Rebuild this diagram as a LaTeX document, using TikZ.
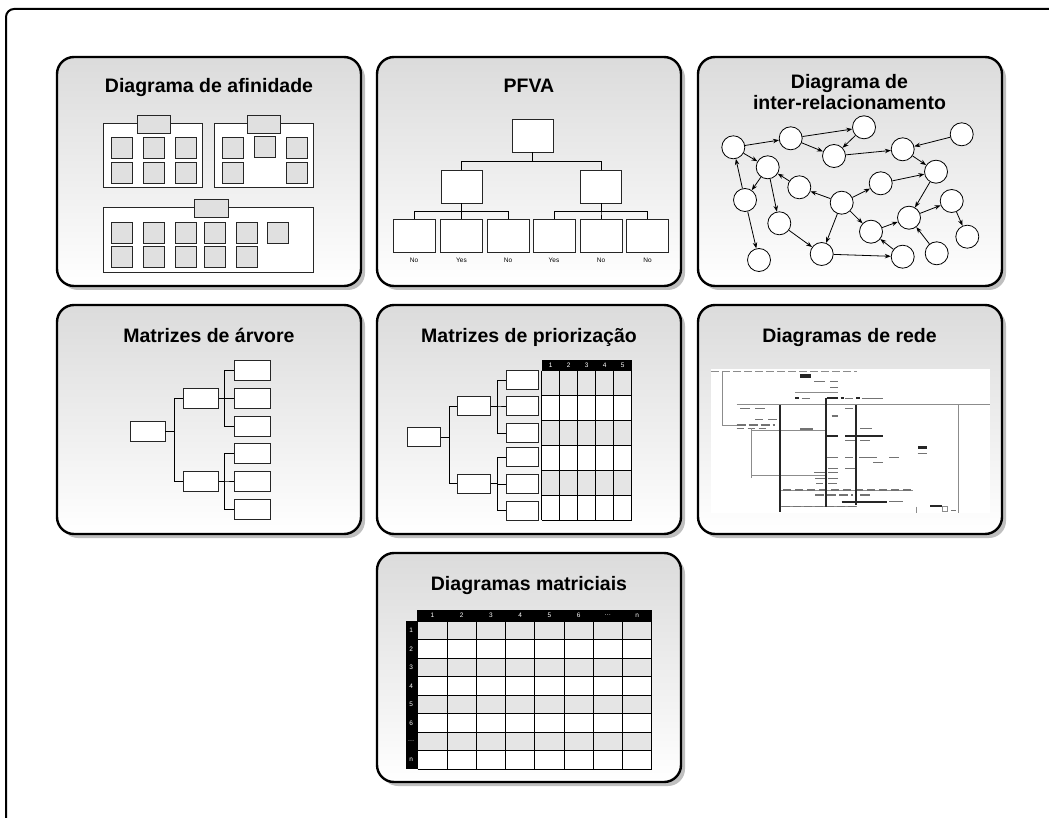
\documentclass[tikz,border=0pt]{standalone}
\usepackage{fontspec}
\setmainfont{Liberation Sans}
\usetikzlibrary{arrows.meta, calc, positioning}

\begin{document}
\begin{tikzpicture}[x=1pt, y=-1pt, >={Stealth[length=6pt, width=4.5pt]},
    panel/.style={draw, line width=2.4pt, rounded corners=17pt, top color=black!14, bottom color=white},
    panelshadow/.style={fill=black!25, rounded corners=17pt},
    title/.style={font=\bfseries\fontsize{19.5}{22}\selectfont, anchor=base, inner sep=0pt},
    box/.style={draw=black!85, fill=white, line width=0.9pt, inner sep=0pt},
    card/.style={box, fill=black!12, minimum width=21pt, minimum height=21pt},
    bubble/.style={circle, draw, fill=white, line width=0.8pt, minimum size=23pt, inner sep=0pt},
    link/.style={->, line width=0.8pt},
    lbl/.style={font=\fontsize{6.5}{7}\selectfont, inner sep=1pt},
    wire/.style={line width=0.9pt},
    faint/.style={black!45, line width=0.6pt},
    blip/.style={black!55, line width=1.3pt},
    heavy/.style={black!85, line width=1.8pt}]

    \useasboundingbox (0,0) rectangle (1049,818);
    \clip (0,0) rectangle (1049,818);

    % Outer frame
    \draw[line width=2pt, rounded corners=8pt] (6,840) -- (6,9) -- (1080,9);

    % Seven panels with shadows
    \foreach \x/\y in {57/57, 377/57, 698/57, 57/305, 377/305, 698/305, 377/553} {
        \fill[panelshadow] (\x+4,\y+4) rectangle ++(304,229);
        \draw[panel] (\x,\y) rectangle ++(304,229);
    }

    % Titles
    \node[title] (t1) at (209,93) {Diagrama de afinidade};
    \node[title] (t2) at (529,93) {PFVA};
    \node[title] (t3a) at (849.5,89) {Diagrama de};
    \node[title] (t3b) at (849.5,110) {inter-relacionamento};
    \node[title] (t4) at (209,342) {Matrizes de árvore};
    \node[title] (t5) at (529,342) {Matrizes de priorização};
    \node[title] (t6) at (849.5,342) {Diagramas de rede};
    \node[title] (t7) at (529,590) {Diagramas matriciais};

    % Affinity groups
    \draw[box] (103,123) rectangle (202,187);
    \draw[box] (214,123) rectangle (313,187);
    \draw[box] (103,207) rectangle (313,272);
    \node[card, minimum width=33pt, minimum height=18pt] (ha) at (153.5,124) {};
    \node[card, minimum width=33pt, minimum height=18pt] (hb) at (264,124) {};
    \node[card, minimum width=34pt, minimum height=18pt] (hc) at (211,208) {};
    \foreach \x/\y [count=\i] in {121.5/148, 153.5/148, 185.5/148, 121.5/172.5, 153.5/172.5, 185.5/172.5}
        \node[card] (ca\i) at (\x,\y) {};
    \foreach \x/\y [count=\i] in {232.5/148, 264.5/147, 296.5/148, 232.5/172.5, 296.5/172.5}
        \node[card] (cb\i) at (\x,\y) {};
    \foreach \x/\y [count=\i] in {121.5/232.5, 153.5/232.5, 185.5/232.5, 214.5/232.5, 246.5/232.5, 277.5/232.5,
                                  121.5/257, 153.5/257, 185.5/257, 214.5/257, 246.5/257}
        \node[card] (cc\i) at (\x,\y) {};

    % PFVA tree
    \node[box, minimum width=41pt, minimum height=33pt] (pt) at (532.5,135.5) {};
    \node[box, minimum width=41pt, minimum height=33pt] (pl) at (461.5,186.5) {};
    \node[box, minimum width=41pt, minimum height=33pt] (pr) at (601,186.5) {};
    \draw[wire] (pt.south) -- ++(0,9) -| (pl.north);
    \draw[wire] (pt.south) -- ++(0,9) -| (pr.north);
    \foreach \x/\up/\txt [count=\i] in {414/pl/No, 461.5/pl/Yes, 508/pl/No, 554/pr/Yes, 601/pr/No, 647.5/pr/No} {
        \node[box, minimum width=42pt, minimum height=33pt] (q\i) at (\x,235.5) {};
        \draw[wire] (\up.south) -- ++(0,8) -| (q\i.north);
        \node[lbl, below=4pt of q\i] (qt\i) {\txt};
    }

    % Interrelationship graph
    \foreach \n/\x/\y in {a/733.3/147.3, b/790.7/138.3, c/864/127.3, d/834/156, e/902.7/149.3,
                          f/961.7/134.3, g/767.7/167.3, h/936/171.7, i/799.3/187.3, j/880.7/183.3,
                          k/745/200, l/841.7/202.7, m/951.7/201, n/909/217.7, o/779.3/223.3,
                          p/871/231.7, q/967.3/236.7, r/821.7/254, s/902.7/256.7, t/936.7/253.3,
                          u/759/260}
        \node[bubble] (\n) at (\x,\y) {};
    \foreach \s/\e in {a/b, b/c, b/d, c/d, d/e, f/e, e/h, a/g, k/a, g/k, i/g, g/o, k/u,
                       l/i, l/j, j/h, h/n, l/p, l/r, p/n, n/m, m/q, o/r, r/s, s/p, t/n}
        \draw[link] (\s) -- (\e);

    % Tree matrix
    \node[box, minimum width=35pt, minimum height=20pt] (tr) at (147.5,431.7) {};
    \node[box, minimum width=35pt, minimum height=20pt] (tm1) at (200.8,398.3) {};
    \node[box, minimum width=35pt, minimum height=20pt] (tm2) at (200.8,481) {};
    \draw[wire] (tr.east) -- ++(9,0) |- (tm1.west);
    \draw[wire] (tr.east) -- ++(9,0) |- (tm2.west);
    \foreach \y/\up [count=\i] in {370/tm1, 398.3/tm1, 426.7/tm1, 453.3/tm2, 481/tm2, 509.3/tm2} {
        \node[box, minimum width=36pt, minimum height=20pt] (tl\i) at (252.8,\y) {};
        \draw[wire] (\up.east) -- ++(6,0) |- (tl\i.west);
    }

    % Prioritization tree
    \node[box, minimum width=33pt, minimum height=19pt] (sr) at (424,437) {};
    \node[box, minimum width=33pt, minimum height=19pt] (sm1) at (474,406) {};
    \node[box, minimum width=33pt, minimum height=19pt] (sm2) at (474,483.8) {};
    \draw[wire] (sr.east) -- ++(8.6,0) |- (sm1.west);
    \draw[wire] (sr.east) -- ++(8.6,0) |- (sm2.west);
    \foreach \y/\up [count=\i] in {380/sm1, 406/sm1, 433/sm1, 457/sm2, 484/sm2, 510.5/sm2} {
        \node[box, minimum width=32pt, minimum height=19pt] (sl\i) at (522.8,\y) {};
        \draw[wire] (\up.east) -- ++(6,0) |- (sl\i.west);
    }

    % Priority grid
    \fill (541.7,360) rectangle (631.7,370.7);
    \fill[white] (541.7,370.7) rectangle (631.7,520);
    \foreach \r in {0,2,4}
        \fill[black!10] (541.7,370.7+24.88*\r) rectangle ++(90,24.88);
    \foreach \c in {0,...,5}
        \draw[wire] (541.7+18*\c,370.7) -- ++(0,149.3);
    \foreach \r in {0,...,6}
        \draw[wire] (541.7,370.7+24.88*\r) -- ++(90,0);
    \foreach \c in {1,...,5}
        \node[lbl, text=white] (sh\c) at (532.7+18*\c,365.3) {\c};

    % Network diagram thumbnail
    \fill[white] (710.7,369) rectangle (990,513.3);
    \draw[faint, dash pattern=on 8pt off 3pt] (711,371.7) -- (857,371.7);
    \fill[black!85] (800,374) rectangle (810.7,378.3);
    \draw[blip] (814,381.7) -- (825,381.7) (830,381.7) -- (838.3,381.7);
    \draw[blip] (830,387.3) -- (838.3,387.3);
    \draw[faint] (795,392.7) -- (838.3,392.7);
    \draw[heavy] (795,398.3) -- (799.3,398.3) (826.7,398.3) -- (838.3,398.3)
                 (840.7,398.3) -- (844,398.3) (856,398.3) -- (860,398.3);
    \draw[blip] (801.7,398.3) -- (810,398.3) (845,398.3) -- (853.3,398.3) (861.7,398.3) -- (883.3,398.3);
    \draw[faint] (736.7,404) -- (990,404);
    \draw[blip] (740,408.3) -- (750,408.3) (755,408.3) -- (765,408.3) (845,408.3) -- (853.3,408.3);
    \draw[blip] (831.7,416) -- (838.3,416);
    \draw[blip] (755,419.3) -- (762.7,419.3) (768.3,419.3) -- (776.7,419.3);
    \draw[faint] (722,425) -- (736.7,425);
    \draw[blip, dash pattern=on 9pt off 3pt] (736.7,425) -- (775,425);
    \draw[blip, dash pattern=on 7pt off 4pt] (736.7,428.3) -- (766.7,428.3);
    \draw[faint] (751,430) -- (825,430);
    \draw[blip] (800,429) -- (813.3,429) (860,428.3) -- (871.7,428.3);
    \draw[heavy] (826.7,436) -- (838.3,436) (845,436) -- (855,436);
    \draw[heavy, line width=2.4pt] (856.7,436) -- (883.3,436);
    \draw[blip] (845,440.7) -- (855,440.7) (860,440.7) -- (870,440.7);
    \fill[black!85] (917.7,446) rectangle (927.3,449);
    \draw[blip] (917.7,453.3) -- (927.3,453.3);
    \draw[blip] (826.7,457.7) -- (838.3,457.7) (845,457.7) -- (853.3,457.7)
                (859.3,457.7) -- (876.7,457.7) (889.3,457.7) -- (899.3,457.7);
    \draw[blip] (873.3,462.7) -- (883.3,462.7);
    \draw[blip] (828.3,468.3) -- (838.3,468.3) (845,468.3) -- (855,468.3);
    \draw[blip] (814,472.7) -- (825,472.7) (828.3,472.7) -- (838.3,472.7);
    \draw[faint] (751,475) -- (826,475);
    \draw[blip] (815,478.3) -- (825,478.3) (828.3,478.3) -- (838.3,478.3);
    \draw[blip] (816,483.3) -- (823.3,483.3) (828.3,483.3) -- (836.7,483.3);
    \draw[faint] (780,490) -- (913.3,490);
    \draw[blip, dash pattern=on 8pt off 4pt] (783,490) -- (913.3,490);
    \draw[blip, dash pattern=on 9pt off 3pt] (815,495) -- (853.3,495);
    \draw[blip] (860,495) -- (870,495);
    \draw[heavy] (841.7,501.7) -- (886.7,501.7);
    \draw[blip] (889.3,501.7) -- (903.3,501.7);
    \draw[faint] (780,506.7) -- (856.7,506.7);
    \draw[blip, dash pattern=on 8pt off 3pt] (782,506.7) -- (856.7,506.7);
    \draw[heavy] (930,506) -- (942,506);
    \draw[faint] (942,506) rectangle (947,511);
    \draw[blip] (951,510.5) -- (956,510.5);
    \draw[faint] (722,371.7) -- (722,425);
    \draw[faint] (751,428) -- (751,478);
    \draw[faint] (958,404) -- (958,513.3);
    \draw[faint] (916.7,506.7) -- (916.7,513.3);
    \draw[heavy] (780,405) -- (780,511.7);
    \draw[heavy] (826,398) -- (826,506.7);
    \draw[heavy] (856,405) -- (856,505);

    % Matrix diagram
    \fill (416.7,610) rectangle (651.7,621);
    \fill (405.7,621) rectangle (417.7,769.3);
    \fill[white] (417.7,621) rectangle (651.7,769.3);
    \foreach \r in {0,2,4,6}
        \fill[black!10] (417.7,621+18.54*\r) rectangle ++(234,18.54);
    \foreach \c in {0,...,8}
        \draw[wire] (417.7+29.25*\c,621) -- ++(0,148.3);
    \foreach \r in {0,...,8}
        \draw[wire] (417.7,621+18.54*\r) -- ++(234,0);
    \foreach \txt [count=\i] in {1,2,3,4,5,6,\dots,n} {
        \node[lbl, text=white] (mh\i) at (403.1+29.25*\i,615.5) {\txt};
        \node[lbl, text=white] (mr\i) at (411.2,611.7+18.54*\i) {\txt};
    }

\end{tikzpicture}
\end{document}
